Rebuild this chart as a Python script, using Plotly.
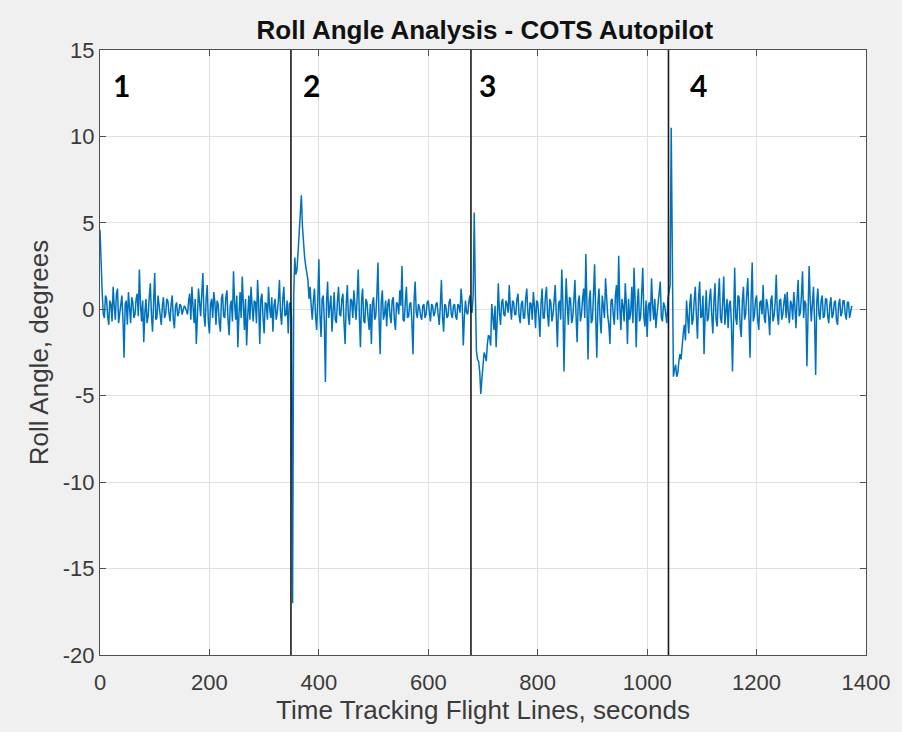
import numpy as np
import plotly.graph_objects as go

# Sample spacing of the logged roll angle, seconds
dt = 2

# Roll angle (degrees) for each of the four flight-line phases
roll_phase1 = [
    4.6, 2.1, 1.0, -0.3, -0.5, 0.8, 0.6, -0.4, -0.9, 0.5,
    0.3, -0.7, 1.3, 0.2, -0.6, 0.9, 1.2, -0.8, -0.2, 0.4,
    0.8, -0.6, -2.8, 0.3, 0.5, -0.9, 1.0, 0.1, -0.8, 0.7,
    0.4, -0.5, -0.3, 0.6, 0.9, -0.4, 2.3, 0.3, -0.7, 0.5,
    -1.9, -0.2, 0.6, -0.8, -0.4, 0.7, 1.5, -0.3, -1.3, 0.4,
    2.1, -0.6, -0.5, 0.8, 0.3, -0.4, -0.9, 0.2, 0.7, -0.5,
    -0.3, 0.6, 0.5, -0.2, -0.7, 0.3, 0.8, -0.6, -1.1, 0.2,
    0.4, -0.4, -0.2, 0.3, 0.2, -0.3, -0.1, 0.2, 0.1, -0.2,
    -0.3, 0.5, 0.9, -0.6, 1.3, 0.2, -0.8, 0.6, -2.0, -0.5,
    1.2, 0.4, -0.4, 0.9, 2.1, -0.3, -1.0, 0.6, 1.4, -0.7,
    -1.4, 0.3, 0.6, -0.5, 1.0, 0.4, -0.9, 0.5, 0.3, -0.8,
    -1.3, 0.6, 0.9, -0.4, -0.5, 0.7, 1.1, -0.6, -1.5, 0.2,
    0.5, -0.7, 2.2, 0.4, -0.6, 0.8, -2.2, -0.3, 1.0, -0.5,
    1.9, 0.3, -1.2, 0.6, -2.1, -0.4, 0.8, -0.6, 1.3, 0.2,
    -0.7, 0.5, 0.4, -0.8, 1.7, 0.3, -2.0, 0.6, 0.9, -0.5,
    -1.4, 0.4, 0.3, -0.6, 1.3, 0.1, -0.5, 0.7, -1.3, 0.2,
    0.6, -0.6, -0.2, 0.5, 1.7, -0.3, -0.9, 0.6, 1.3, -0.4,
    -0.3, 0.5, -1.4, 0.3, 0.4, -0.5,
]
roll_phase2 = [
    -17.0, 0.8, 3.0, 2.0, 2.3, 3.3, 4.2, 5.5, 6.6, 4.8,
    3.6, 3.0, 2.5, 1.9, 1.7, 0.6, 1.3, 0.2, -0.6, 0.5,
    1.2, -0.4, -1.2, 0.5, 2.9, -0.3, -1.6, 0.6, 0.8, -0.7,
    -4.2, 0.4, 1.6, -0.5, 0.3, 0.8, -1.3, 0.2, 1.0, -0.6,
    -0.8, 0.5, 1.3, -0.3, -0.4, 0.6, 0.9, -0.8, -2.0, 0.3,
    1.4, -0.4, -0.9, 0.6, 0.5, -0.5, 1.1, 0.2, -0.6, 0.7,
    2.3, -0.4, -2.2, 0.5, 1.2, -0.7, -0.8, 0.6, 0.4, -0.5,
    -1.2, 0.3, -2.0, 0.4, 0.7, -0.6, -0.4, 0.8, 2.7, -0.5,
    -2.6, 0.4, 1.1, -0.6, -0.3, 0.5, -1.0, 0.3, 0.6, -0.4,
    -0.8, 0.5, 0.7, -0.6, -1.2, 0.4, 0.3, -0.3, 1.1, 0.2,
    2.5, -0.6, -0.7, 0.4, 1.3, -0.5, -0.4, 0.3, 0.4, -0.7,
    -2.6, 0.5, 1.6, -0.2, -0.5, 0.3, 0.1, -0.4, -0.6, 0.2,
    0.3, -0.5, -0.3, 0.4, 0.5, -0.2, -0.7, 0.3, 0.2, -0.4,
    -0.2, 0.3, 0.4, -0.3, -0.9, 0.2, 1.7, -0.4, -1.3, 0.3,
    0.2, -0.5, -0.4, 0.4, 0.6, -0.3, -0.5, 0.2, 0.3, -0.4,
    -0.6, 0.3, 0.2, -0.2, 1.2, 0.3, -2.1, -0.4, 0.5, -0.2,
    -0.3, 0.4, 0.8, -0.1,
]
roll_phase3 = [
    -0.2, 0.8, 5.6, 1.0, -2.4, -2.9, -3.0, -3.6, -4.9, -4.0,
    -3.3, -2.5, -2.7, -3.0, -2.0, -1.5, -1.6, -2.1, 0.3, -0.5,
    -1.2, 0.2, -2.2, -0.6, 1.5, -0.2, -0.9, 0.4, 0.6, -0.3,
    -0.4, 0.5, 0.3, -0.2, 1.4, 0.1, -0.6, 0.5, 0.4, -0.3,
    -0.3, 0.6, 0.9, -0.4, -0.8, 0.3, 0.5, -0.5, -0.5, 0.6,
    1.2, -0.2, -0.9, 0.4, 0.3, -0.6, 1.0, 0.2, -1.1, 0.5,
    0.4, -0.4, -1.6, 0.3, 1.2, -0.5, -0.5, 0.7, 1.3, -0.3,
    -1.0, 0.6, 0.4, -0.7, -0.3, 0.5, 1.4, -0.4, -2.2, 0.3,
    0.5, -0.6, 2.3, 0.4, -3.6, -0.5, 1.8, 0.3, -0.9, 0.7,
    0.6, -0.8, -0.5, 0.5, 1.7, -0.3, -1.9, 0.4, 0.8, -0.7,
    -0.3, 0.6, 1.2, -0.5, 3.2, 0.2, -2.9, 0.5, 1.1, -0.8,
    -0.6, 0.9, 2.6, -0.4, -2.8, 0.3, 1.2, -0.6, -1.4, 0.8,
    0.3, -0.5, 1.8, 0.4, -0.4, -0.9, -2.0, 0.5, 0.6, -0.3,
    -0.9, 0.8, 1.4, -0.6, 3.1, 0.2, -1.2, 0.6, 0.2, -0.7,
    1.5, 0.3, -2.0, 0.6, -0.6, -0.2, 1.3, -0.8, 2.4, 0.5,
    -2.2, 0.3, 1.2, -0.7, -0.5, 0.9, 2.4, -0.4, -1.0, 0.5,
    -1.6, 0.2, 0.4, -0.7, 1.8, 0.3, -0.6, 0.6, -1.1, -0.3,
    0.5, 0.8, 1.6, -0.5, -0.7, 0.4, 0.2, -0.3, -0.8, 0.6,
]
roll_phase4 = [
    1.0, 1.4, 10.5, 2.0, -3.9, -3.5, -3.2, -3.9, -3.7, -3.0,
    -2.6, -2.9, -2.0, -1.4, -0.9, -1.8, 0.5, -0.6, -1.4, 0.3,
    0.9, -0.9, -0.6, 0.5, 1.3, -0.4, -1.7, 0.6, 1.6, -0.5,
    -0.4, 0.8, -2.6, -0.3, 1.1, -0.7, -0.5, 0.6, 1.2, -0.3,
    -1.4, 0.4, 1.5, -0.6, -1.0, 0.7, 1.8, -0.5, -0.8, 0.4,
    1.9, -0.9, 0.2, 0.6, -1.1, 0.3, 0.5, -0.8, -3.6, 0.2,
    2.4, -0.5, -0.9, 0.8, 0.7, -1.0, -1.6, 0.5, 1.3, -0.6,
    -0.3, 0.9, 1.8, -0.4, -2.8, 0.6, 2.7, -0.7, -0.4, 0.5,
    0.8, -0.6, -1.2, 0.4, 0.5, -0.3, 1.4, -0.5, -0.8, 0.6,
    0.3, -0.4, -1.5, 0.5, 0.8, -0.7, -0.4, 0.4, 2.0, -0.3,
    -0.9, 0.5, 0.6, -0.6, -0.3, 0.4, 0.9, -0.5, 1.0, -0.2,
    -0.8, 0.5, 0.3, -0.6, 1.0, 0.2, -1.1, 0.6, 1.7, -0.4,
    -0.2, 0.8, 2.2, -0.5, 0.5, 0.3, -3.3, -0.4, 2.5, 0.6,
    -0.7, 0.3, 1.3, -0.6, -3.8, 0.4, 1.2, -0.3, -0.6, 0.5,
    0.8, -0.5, -0.4, 0.6, 0.6, -0.4, -0.8, 0.3, 0.7, -0.5,
    -0.3, 0.4, 0.5, -0.6, -0.9, 0.3, 0.6, -0.4, -0.2, 0.5,
    0.5, -0.3, -0.6, 0.4, 0.4, -0.5, -0.1, 0.2,
]

# Times at which a new flight line begins, and the phase numbers
phase_bounds = [349, 678, 1039]
phase_labels = ["1", "2", "3", "4"]
phase_label_x = [40, 387, 709, 1093]
phase_label_y = 13

x_ticks = [0, 200, 400, 600, 800, 1000, 1200, 1400]
y_ticks = [-20, -15, -10, -5, 0, 5, 10, 15]
y_tick_text = ["-20", "-15", "-10", "-5", "0", "5", "10", "15"]

roll = roll_phase1 + roll_phase2 + roll_phase3 + roll_phase4
time = np.arange(len(roll)) * dt

fig = go.Figure()
fig.add_trace(go.Scatter(
    x=time, y=roll, mode="lines",
    line=dict(color="#0072BD", width=1.5),
    showlegend=False, hoverinfo="skip",
))

for xb in phase_bounds:
    fig.add_shape(type="line", xref="x", yref="y", x0=xb, x1=xb,
                  y0=-20, y1=15, line=dict(color="#1a1a1a", width=1.6),
                  layer="above")

for lab, lx in zip(phase_labels, phase_label_x):
    fig.add_annotation(x=lx, y=phase_label_y, xref="x", yref="y",
                       text=f"<b>{lab}</b>", showarrow=False,
                       font=dict(family="Lato", size=30, color="#000000"))

axis_common = dict(
    showline=True, linecolor="#505050", linewidth=1, mirror="allticks",
    ticks="inside", ticklen=6, tickcolor="#505050",
    showgrid=True, gridcolor="#e0e0e0", gridwidth=1, zeroline=False,
    tickfont=dict(family="Liberation Sans", size=22, color="#3a3a3a"),
)

fig.update_xaxes(range=[0, 1400], tickvals=x_ticks, ticklabelstandoff=8,
                 **axis_common,
                 title=dict(text="Time Tracking Flight Lines, seconds",
                            font=dict(family="Liberation Sans", size=26, color="#3a3a3a"),
                            standoff=6))
fig.update_yaxes(range=[-20, 15], tickvals=y_ticks, ticktext=y_tick_text,
                 **axis_common,
                 title=dict(text="Roll Angle, degrees",
                            font=dict(family="Liberation Sans", size=26, color="#3a3a3a"),
                            standoff=6))

fig.update_layout(
    width=902, height=732,
    paper_bgcolor="#f0f0f0", plot_bgcolor="#ffffff",
    margin=dict(l=100, r=32, t=50, b=76),
    title=dict(text="<b>Roll Angle Analysis - COTS Autopilot</b>",
               x=0.5375, xanchor="center", y=1 - 30 / 732, yanchor="middle",
               font=dict(family="Liberation Sans", size=26, color="#111111")),
)

fig.write_html("out.html")
